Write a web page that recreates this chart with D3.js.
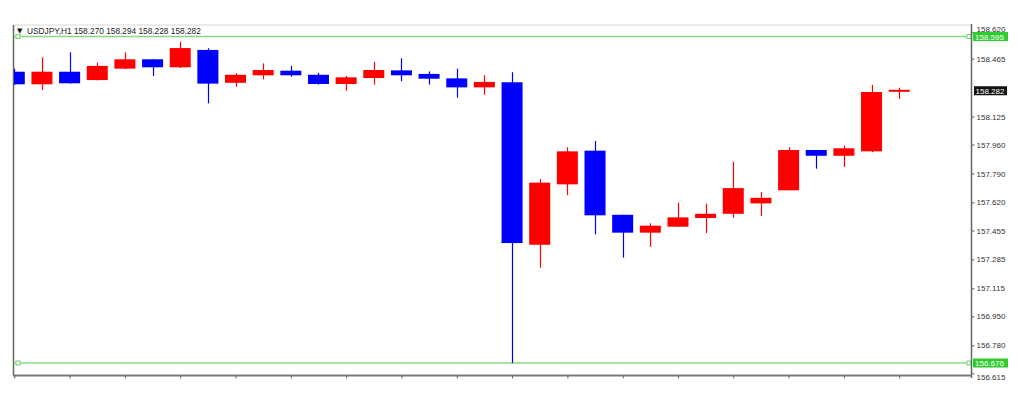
<!DOCTYPE html>
<html><head><meta charset="utf-8">
<script src="https://cdn.jsdelivr.net/npm/d3@7"></script>
<style>body{margin:0;background:#fff}svg{display:block}</style>
</head><body>
<svg id="c" width="1024" height="402"></svg>
<script>
// ---------- data ----------
const symbol = "USDJPY,H1";
const bars = [1,2,3,4,5,6,7,8,9,10,11,12,13,14,15,16,17,18,19,20,21,22,23,24,25,26,27,28,29,30,31,32,33];
const opens  = [158.388,158.314,158.388,158.339,158.406,158.461,158.414,158.516,158.323,158.367,158.394,158.370,158.316,158.351,158.396,158.375,158.349,158.296,158.326,157.371,157.726,157.924,157.547,157.442,157.477,157.528,157.553,157.614,157.691,157.928,157.894,157.920,158.270];
const highs  = [158.405,158.473,158.502,158.441,158.502,158.463,158.564,158.526,158.379,158.437,158.423,158.382,158.363,158.447,158.467,158.390,158.406,158.367,158.385,157.757,157.944,157.981,157.547,157.497,157.618,157.612,157.859,157.681,157.944,157.928,157.953,158.310,158.294];
const lows   = [158.312,158.281,158.318,158.337,158.404,158.363,158.410,158.202,158.300,158.343,158.359,158.312,158.276,158.312,158.332,158.312,158.235,158.253,156.676,157.236,157.663,157.432,157.295,157.359,157.477,157.440,157.530,157.540,157.691,157.818,157.828,157.915,158.228];
const closes = [158.314,158.388,158.320,158.422,158.461,158.414,158.527,158.318,158.370,158.398,158.367,158.316,158.355,158.398,158.367,158.347,158.296,158.328,157.381,157.736,157.920,157.544,157.442,157.483,157.532,157.553,157.704,157.647,157.928,157.894,157.938,158.269,158.282];
const priceTicks = [158.620,158.465,158.125,157.960,157.790,157.620,157.455,157.285,157.115,156.950,156.780,156.615];
const levels = [158.595,156.676];

// ---------- layout ----------
const L = 14, R = 971, T = 25, B = 375;
const svg = d3.select("#c");
const x = d3.scalePoint().domain(bars).range([14.3, 899.2]);
const y = d3.scaleLinear().domain([156.676, 158.595]).range([363, 36.5]);
const bodyW = x.step() * 0.76;
const up = "#ff0000", down = "#0000ff";
const fmt = d3.format(".3f");
const axisFont = "8px 'Liberation Sans', Arial, sans-serif";

svg.append("defs").append("clipPath").attr("id","plot")
  .append("rect").attr("x", L).attr("y", T).attr("width", R - L).attr("height", B - T);

// frame
svg.append("line").attr("x1", L).attr("x2", R).attr("y1", T).attr("y2", T)
  .attr("stroke", "#d8d8d8").attr("stroke-width", 1);
svg.append("line").attr("x1", L - 0.5).attr("x2", L - 0.5).attr("y1", T).attr("y2", B)
  .attr("stroke", "#666").attr("stroke-width", 1.5);

const data = bars.map((b, i) => ({b, o: opens[i], h: highs[i], l: lows[i], c: closes[i]}));
const g = svg.append("g").attr("clip-path", "url(#plot)");

// level lines
levels.forEach(v => {
  g.append("line").attr("x1", L).attr("x2", R).attr("y1", y(v)).attr("y2", y(v))
    .attr("stroke", "#86dc86").attr("stroke-width", 1.5);
  [L + 2, R - 4].forEach(px => {
    g.append("rect").attr("x", px).attr("y", y(v) - 2).attr("width", 4).attr("height", 4)
      .attr("fill", "#fff").attr("stroke", "#6fcf6f").attr("stroke-width", 1);
  });
});

// candles
const cg = g.selectAll("g.cdl").data(data).join("g").attr("class", "cdl");
cg.append("line")
  .attr("x1", d => Math.round(x(d.b)) + 0.5).attr("x2", d => Math.round(x(d.b)) + 0.5)
  .attr("y1", d => y(d.h)).attr("y2", d => y(d.l))
  .attr("stroke", d => d.c >= d.o ? up : down).attr("stroke-width", 1.2);
cg.append("rect")
  .attr("x", d => x(d.b) - bodyW / 2).attr("width", bodyW)
  .attr("y", d => y(Math.max(d.o, d.c)))
  .attr("height", d => Math.max(1.5, Math.abs(y(d.o) - y(d.c))))
  .attr("fill", d => d.c >= d.o ? up : down);

// right price axis
svg.append("line").attr("x1", R + 0.5).attr("x2", R + 0.5).attr("y1", T - 1).attr("y2", B + 3)
  .attr("stroke", "#666").attr("stroke-width", 1.5);
const yAxis = d3.axisRight(y).tickValues(priceTicks).tickFormat(fmt).tickSize(3).tickPadding(2);
const ya = svg.append("g").attr("transform", `translate(${R + 0.5},0)`).call(yAxis);
ya.select(".domain").remove();
ya.selectAll("line").attr("stroke", "#666");
const nT = priceTicks.length;
ya.selectAll("text").attr("fill", "#333").style("font", axisFont)
  .attr("y", (d, i) => i === 0 ? -3.5 : (i === nT - 1 ? 3.5 : 0));

// bottom axis
svg.append("line").attr("x1", L - 1).attr("x2", R + 1).attr("y1", B + 0.5).attr("y2", B + 0.5)
  .attr("stroke", "#7a7a7a").attr("stroke-width", 1.8);
const xAxis = d3.axisBottom(x).tickValues(bars.filter((b, i) => i % 2 === 0)).tickSize(3).tickFormat("");
const xa = svg.append("g").attr("transform", `translate(0,${B + 0.5})`).call(xAxis);
xa.select(".domain").remove();
xa.selectAll("line").attr("stroke", "#666");

// level labels
levels.forEach(v => {
  const ly = y(v);
  svg.append("rect").attr("x", 973).attr("y", ly - 4.5).attr("width", 35).attr("height", 9).attr("fill", "#2ecc2e");
  svg.append("text").attr("x", 975).attr("y", ly + 3).attr("fill", "#fff")
    .style("font", axisFont).text(fmt(v));
});
// current price label
const last = closes[closes.length - 1];
svg.append("rect").attr("x", 974).attr("y", y(last) - 3.5).attr("width", 33).attr("height", 9).attr("fill", "#111");
svg.append("text").attr("x", 975.5).attr("y", y(last) + 4).attr("fill", "#fff")
  .style("font", axisFont).text(fmt(last));

// header
const li = data.length - 1;
svg.append("text").attr("x", 17).attr("y", 33).attr("fill", "#111")
  .style("font", "7px 'DejaVu Sans', sans-serif").text("▼");
svg.append("text").attr("x", 27).attr("y", 33.5).attr("fill", "#222")
  .style("font", "8.3px 'Liberation Sans', Arial, sans-serif")
  .text(`${symbol}  ${fmt(opens[li])} ${fmt(highs[li])} ${fmt(lows[li])} ${fmt(closes[li])}`);
</script>
</body></html>
